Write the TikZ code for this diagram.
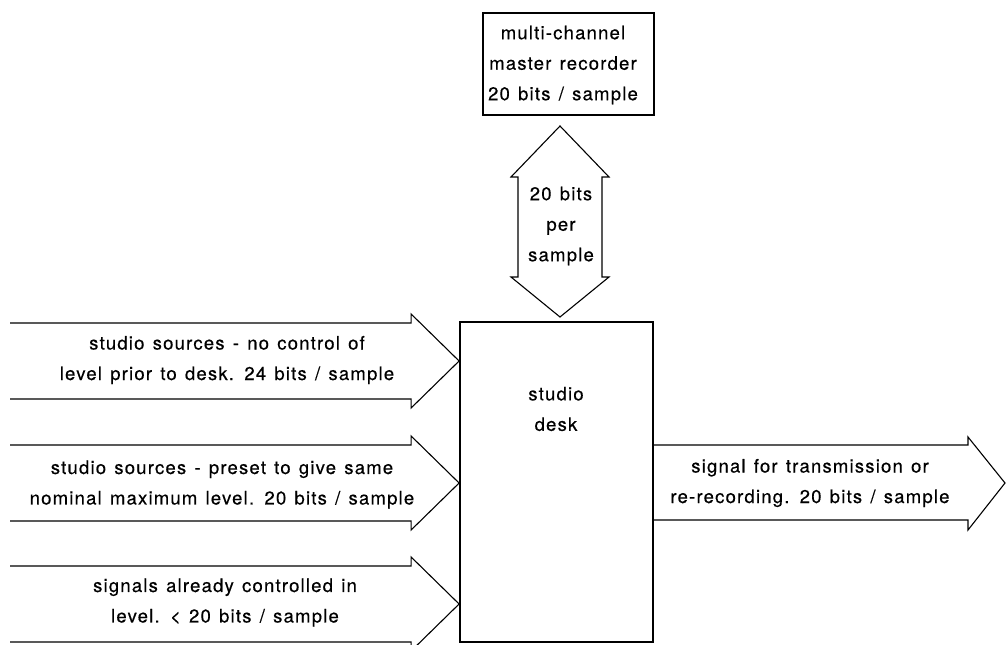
\documentclass[tikz,border=0pt]{standalone}
\usepackage{fontspec}
\setmainfont{TeX Gyre Heros}
\newfontfamily\labelfont{TeX Gyre Heros}[LetterSpace=6.5, WordSpace=1.3, FakeBold=0.4]
\usetikzlibrary{calc}
\begin{document}
\begin{tikzpicture}[x=1pt,y=-1pt,
  box/.style={draw, line width=1.8pt, inner sep=0pt},
  fat/.style={draw, line width=1.1pt, line join=miter},
  lbl/.style={font=\labelfont\fontsize{18.5}{30.5}\selectfont, align=center, inner sep=0pt},
]
\useasboundingbox (0,0) rectangle (1007,645);

% blocks
\node[box, minimum width=171pt, minimum height=102pt] (rec) at (568.5,64) {};
\node[lbl] (reclbl) at (563,65) {multi-channel\\master recorder\\20 bits / sample};
\node[box, minimum width=193pt, minimum height=320pt] (desk) at (556.5,482) {};
\node[lbl] (desklbl) at (556,409) {studio\\desk};

% two-way bus between recorder and desk
\coordinate (utip) at (560,126);
\coordinate (dtip) at (560,317);
\draw[fat] (utip) -- ($(utip)+(49,51)$) -- ($(utip)+(42,51)$)
  -- ($(dtip)+(42,-40)$) -- ($(dtip)+(49,-40)$) -- (dtip)
  -- ($(dtip)+(-49,-40)$) -- ($(dtip)+(-42,-40)$)
  -- ($(utip)+(-42,51)$) -- ($(utip)+(-49,51)$) -- cycle;
\node[lbl] (bus) at (561,226) {20 bits\\per\\sample};

% inputs to the desk
\foreach \n/\y in {a/361, b/483, c/604} {
  \coordinate (in\n) at (desk.west |- 0,\y);
  \draw[fat] (10,\y-38) -- ($(in\n)+(-48,-38)$) -- ($(in\n)+(-48,-47)$)
    -- (in\n) -- ($(in\n)+(-48,47)$) -- ($(in\n)+(-48,38)$) -- (10,\y+38);
}
\node[lbl] (ta) at (227,360) {studio sources - no control of\\level prior to desk. 24 bits / sample};
\node[lbl] (tb) at (222,484.5) {studio sources - preset to give same\\nominal maximum level. 20 bits / sample};
\node[lbl] (tc) at (225,602.5) {signals already controlled in\\level. < 20 bits / sample};

% output from the desk
\coordinate (outs) at (desk.east |- 0,483);
\coordinate (outt) at (1005,483);
\draw[fat] (outs |- 0,445) -- (968,445) -- (968,437) -- (outt)
  -- (968,530) -- (968,520) -- (outs |- 0,520);
\node[lbl] (to) at (810,483) {signal for transmission or\\re-recording. 20 bits / sample};
\end{tikzpicture}
\end{document}
